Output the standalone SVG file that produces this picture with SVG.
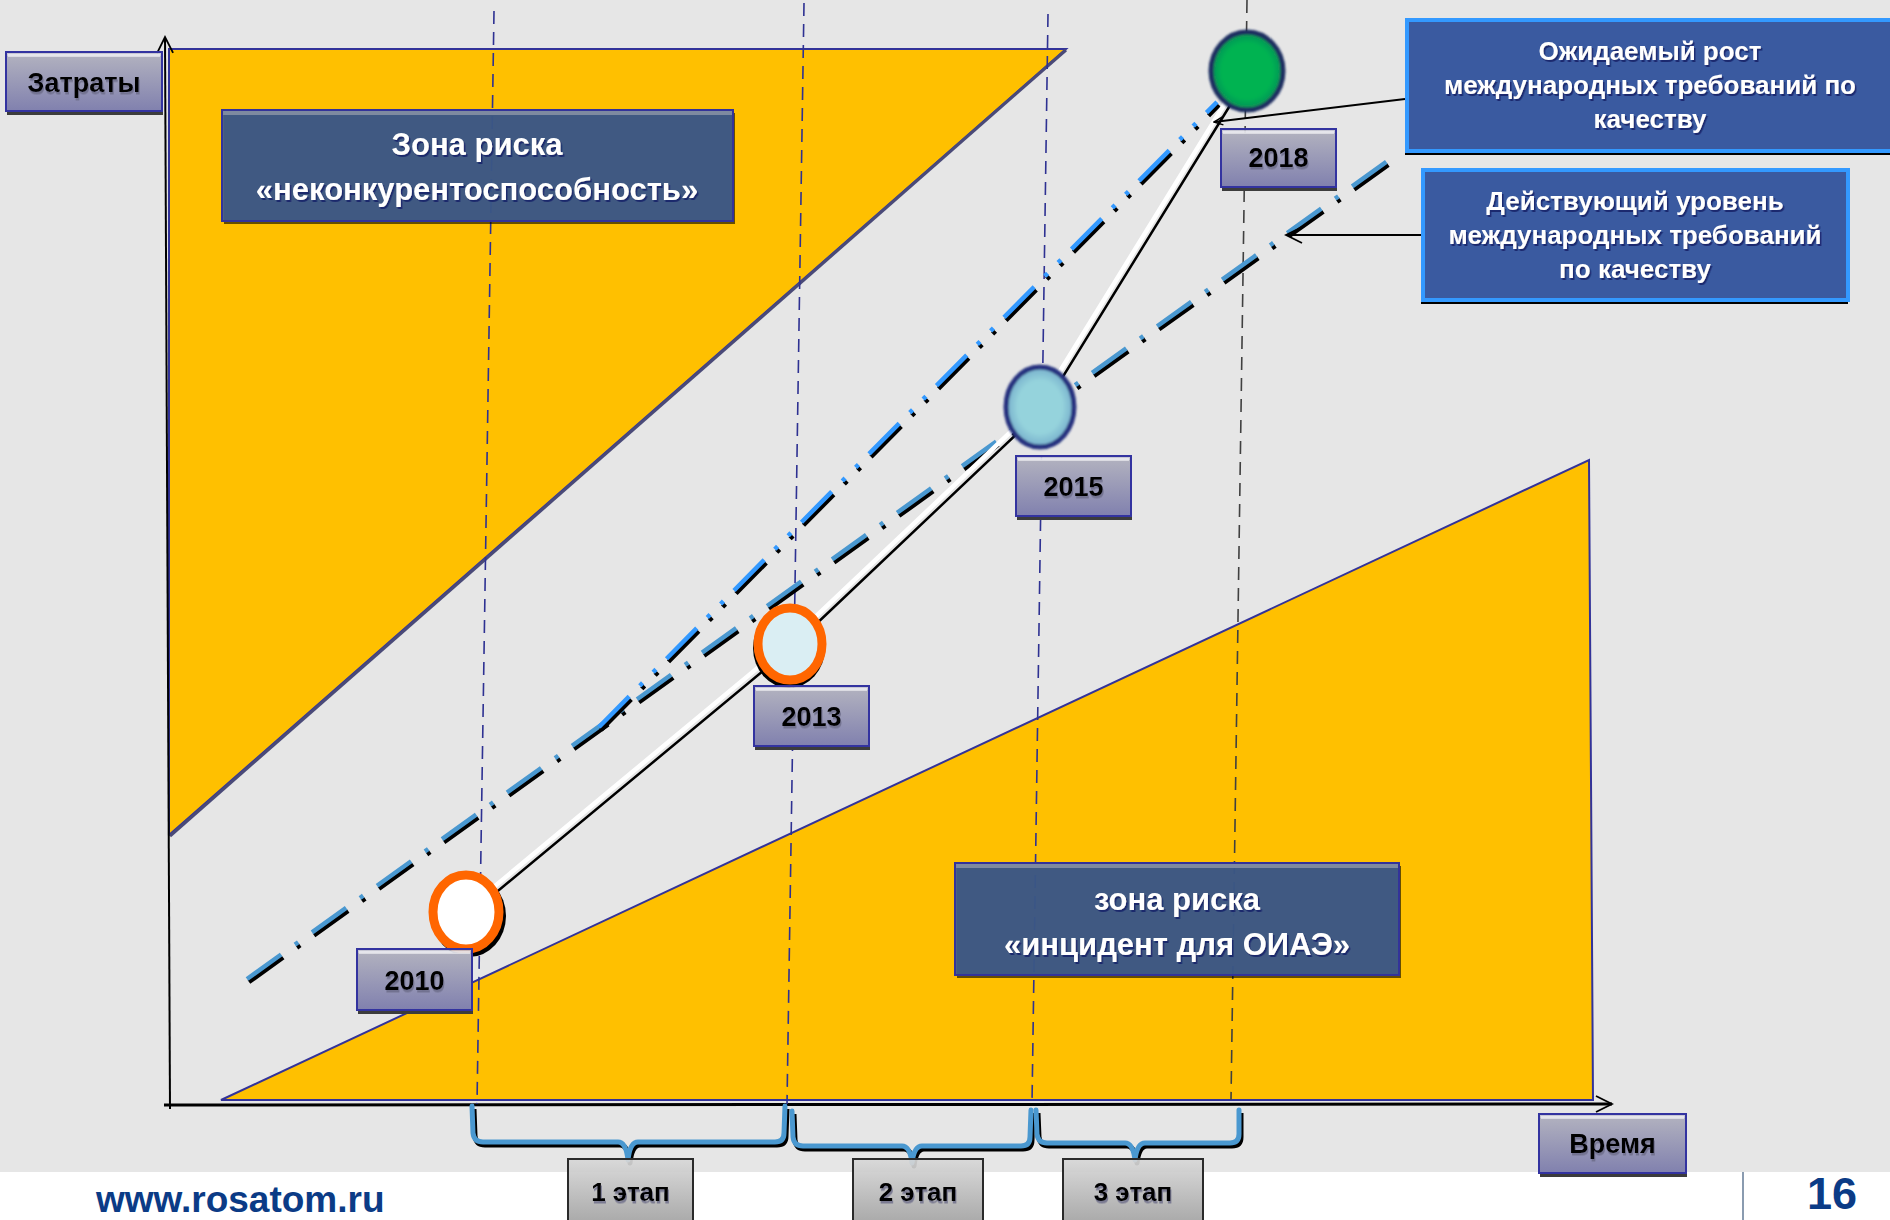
<svg xmlns="http://www.w3.org/2000/svg" width="1890" height="1220" viewBox="0 0 1890 1220">
<defs>
<linearGradient id="gLabel" x1="0" y1="0" x2="0" y2="1"><stop offset="0" stop-color="#C4C4D2"/><stop offset="1" stop-color="#8A8ABE"/></linearGradient>
<linearGradient id="gStage" x1="0" y1="0" x2="0" y2="1"><stop offset="0" stop-color="#D8D8D8"/><stop offset="1" stop-color="#A0A0A0"/></linearGradient>
<radialGradient id="g2015" cx="0.5" cy="0.5" r="0.5"><stop offset="0.65" stop-color="#95D3DC"/><stop offset="1" stop-color="#76AECB"/></radialGradient>
<radialGradient id="g2018" cx="0.5" cy="0.5" r="0.5"><stop offset="0.7" stop-color="#00B351"/><stop offset="1" stop-color="#0B8F57"/></radialGradient>
<filter id="tsW" x="-5%" y="-30%" width="110%" height="160%"><feDropShadow dx="1.5" dy="2" stdDeviation="0.6" flood-color="#14206A" flood-opacity="0.9"/></filter>
<filter id="tsB" x="-5%" y="-30%" width="110%" height="160%"><feDropShadow dx="1" dy="2.5" stdDeviation="0.7" flood-color="#6A6A88" flood-opacity="0.8"/></filter>
<filter id="soft" x="-20%" y="-20%" width="140%" height="140%"><feGaussianBlur stdDeviation="1.3"/></filter>
<marker id="arr" viewBox="0 0 20 20" refX="18" refY="10" markerWidth="20" markerHeight="20" markerUnits="userSpaceOnUse" orient="auto"><path d="M2,2 L18,10 L2,18" fill="none" stroke="#000" stroke-width="1.8"/></marker>
<marker id="arrS" viewBox="0 0 12 12" refX="11" refY="6" markerWidth="12" markerHeight="12" markerUnits="userSpaceOnUse" orient="auto"><path d="M2,2 L11,6 L2,10" fill="none" stroke="#000" stroke-width="1.5"/></marker>
<style>
text{font-family:"Liberation Sans",Arial,sans-serif;font-weight:bold;text-anchor:middle}
.lbl{fill:url(#gLabel);fill-opacity:.88;stroke:#3333A0;stroke-width:2}
.hl{fill:#FFFFFF;fill-opacity:.55}
.shd{fill:#3C3C3C}
.lt{font-size:27px;fill:#000}
.zone{fill:#3D5A8C;fill-opacity:.93;stroke:#33339A;stroke-width:2}
.zstrip{fill:#7E8AA0}
.zshd{fill:#000;fill-opacity:.6}
.zt{font-size:31px;fill:#FFFFFF}
.rbox{fill:#3A5AA0;stroke:#3399FF;stroke-width:4}
.rt{font-size:26px;fill:#FFFFFF}
.stage{fill:url(#gStage);fill-opacity:.92;stroke:#2A2A2A;stroke-width:2}
.st{font-size:26px;fill:#000}
.vd{fill:none;stroke:#2E3192;stroke-width:1.6;stroke-dasharray:13 8}
.brace{fill:none;stroke:#4A98D0;stroke-width:5;stroke-linejoin:round;stroke-linecap:round}
.braceS{fill:none;stroke:#000;stroke-width:5;stroke-linejoin:round}
</style>
</defs>

<!-- background -->
<rect x="0" y="0" width="1890" height="1172" fill="#E6E6E6"/>
<rect x="0" y="1172" width="1890" height="48" fill="#FFFFFF"/>

<!-- risk zones (areas) -->
<g id="zone-areas">
<polygon points="169,49 1066,49 169,835" fill="#FFC000" stroke="#333399" stroke-width="2"/>
<line x1="1066" y1="50" x2="170" y2="836" stroke="#4A4A78" stroke-width="3"/>
<polygon points="221,1100 1589,460 1593,1100" fill="#FFC000" stroke="#333399" stroke-width="2"/>
</g>

<!-- axes -->
<g id="axes">
<line x1="164" y1="1105" x2="1612" y2="1104" stroke="#000" stroke-width="3" marker-end="url(#arr)"/>
<line x1="170" y1="1109" x2="165" y2="37" stroke="#000" stroke-width="2" marker-end="url(#arr)"/>
</g>

<!-- year guide lines -->
<g id="guides">
<line x1="494" y1="11" x2="477" y2="1104" class="vd"/>
<line x1="804" y1="3" x2="787" y2="1104" class="vd"/>
<line x1="1048" y1="14" x2="1032" y2="1104" class="vd"/>
<line x1="1247" y1="0" x2="1231" y2="1100" class="vd" style="stroke:#404040"/>
</g>

<!-- requirement trend lines -->
<g id="trend-lines" fill="none" stroke-width="4.5">
<line x1="249" y1="982" x2="1391" y2="163" stroke="#000" stroke-dasharray="42 17 4 17"/>
<line x1="247" y1="979" x2="1389" y2="160" stroke="#4A98D0" stroke-dasharray="42 17 4 17"/>
<line x1="601" y1="730" x2="1219" y2="105" stroke="#000" stroke-dasharray="43 15 4 15 4 15"/>
<line x1="599" y1="727" x2="1217" y2="102" stroke="#3399FF" stroke-dasharray="43 15 4 15 4 15"/>
</g>

<!-- connectors -->
<g id="connectors" fill="none">
<polyline points="469,915 793,646 1043,409 1250,73" stroke="#000" stroke-width="2.5"/>
<polyline points="465.5,910.5 789.5,641.5 1039.5,404.5 1246.5,68.5" stroke="#FFFFFF" stroke-width="4.5"/>
<line x1="1405" y1="99" x2="1214" y2="122" stroke="#000" stroke-width="2" marker-end="url(#arrS)"/>
<line x1="1421" y1="235" x2="1286" y2="235" stroke="#000" stroke-width="2" marker-end="url(#arr)"/>
</g>

<!-- year nodes -->
<g id="node-2010">
<ellipse cx="469" cy="916" rx="37" ry="41" fill="#000"/>
<ellipse cx="466" cy="912" rx="33" ry="37" fill="#FFFFFF" stroke="#FF6600" stroke-width="9"/>
</g>
<g id="node-2013">
<ellipse cx="789" cy="648" rx="36" ry="40" fill="#000"/>
<ellipse cx="790" cy="644" rx="32" ry="36" fill="#DAEEF3" stroke="#FF6600" stroke-width="9"/>
</g>
<g id="node-2015">
<ellipse cx="1040" cy="407" rx="34" ry="40" fill="url(#g2015)" stroke="#27337F" stroke-width="5" filter="url(#soft)"/>
</g>
<g id="node-2018">
<ellipse cx="1247" cy="71" rx="36" ry="39" fill="url(#g2018)" stroke="#1F2F60" stroke-width="5" filter="url(#soft)"/>
</g>

<!-- year labels -->
<g id="label-2018">
<rect x="1222" y="133" width="115" height="58" class="shd"/>
<rect x="1221" y="129" width="115" height="58" class="lbl"/>
<rect x="1223" y="131" width="111" height="3" class="hl"/>
<text x="1278.5" y="167" class="lt" filter="url(#tsB)">2018</text>
</g>
<g id="label-2015">
<rect x="1017" y="460" width="115" height="60" class="shd"/>
<rect x="1016" y="456" width="115" height="60" class="lbl"/>
<rect x="1018" y="458" width="111" height="3" class="hl"/>
<text x="1073.5" y="496" class="lt" filter="url(#tsB)">2015</text>
</g>
<g id="label-2013">
<rect x="755" y="690" width="115" height="60" class="shd"/>
<rect x="754" y="686" width="115" height="60" class="lbl"/>
<rect x="756" y="688" width="111" height="3" class="hl"/>
<text x="811.5" y="726" class="lt" filter="url(#tsB)">2013</text>
</g>
<g id="label-2010">
<rect x="358" y="953" width="115" height="61" class="shd"/>
<rect x="357" y="949" width="115" height="61" class="lbl"/>
<rect x="359" y="951" width="111" height="3" class="hl"/>
<text x="414.5" y="990" class="lt" filter="url(#tsB)">2010</text>
</g>

<!-- axis labels -->
<g id="label-costs">
<rect x="7" y="56" width="156" height="59" class="shd"/>
<rect x="6" y="52" width="156" height="59" class="lbl"/>
<rect x="8" y="54" width="152" height="3" class="hl"/>
<text x="84" y="92" class="lt" filter="url(#tsB)">Затраты</text>
</g>
<g id="label-time">
<rect x="1540" y="1118" width="147" height="59" class="shd"/>
<rect x="1539" y="1114" width="147" height="59" class="lbl"/>
<rect x="1541" y="1116" width="143" height="3" class="hl"/>
<text x="1612.5" y="1153" class="lt" filter="url(#tsB)">Время</text>
</g>

<!-- zone titles -->
<g id="zone-uncompetitive">
<rect x="224" y="113" width="511" height="111" class="zshd"/>
<rect x="222" y="110" width="511" height="111" class="zone"/>
<rect x="223" y="111" width="509" height="4" class="zstrip"/>
<g filter="url(#tsW)">
<text x="477" y="155" class="zt">Зона риска</text>
<text x="477" y="200" class="zt">«неконкурентоспособность»</text>
</g>
</g>
<g id="zone-incident">
<rect x="957" y="866" width="444" height="112" class="zshd"/>
<rect x="955" y="863" width="444" height="112" class="zone"/>
<rect x="956" y="864" width="442" height="4" class="zstrip"/>
<g filter="url(#tsW)">
<text x="1177" y="910" class="zt">зона риска</text>
<text x="1177" y="955" class="zt">«инцидент для ОИАЭ»</text>
</g>
</g>

<!-- callout boxes -->
<g id="box-expected">
<rect x="1405" y="24" width="490" height="131" fill="#000"/>
<rect x="1407" y="20" width="490" height="131" class="rbox"/>
<g filter="url(#tsW)">
<text x="1650" y="60" class="rt">Ожидаемый рост</text>
<text x="1650" y="94" class="rt">международных требований по</text>
<text x="1650" y="128" class="rt">качеству</text>
</g>
</g>
<g id="box-current">
<rect x="1421" y="174" width="427" height="130" fill="#000"/>
<rect x="1423" y="170" width="425" height="130" class="rbox"/>
<g filter="url(#tsW)">
<text x="1635" y="210" class="rt">Действующий уровень</text>
<text x="1635" y="244" class="rt">международных требований</text>
<text x="1635" y="278" class="rt">по качеству</text>
</g>
</g>

<!-- stage braces -->
<g id="braces">
<g transform="translate(2,3)">
<path class="braceS" d="M472,1106 L473,1133 Q474,1142 483,1142 L618,1142 Q626,1142 628,1160 Q630,1142 638,1142 L775,1142 Q784,1142 784,1133 L785,1106"/>
<path class="braceS" d="M792,1111 L793,1137 Q794,1146 803,1146 L902,1146 Q910,1146 912,1163 Q914,1146 922,1146 L1021,1146 Q1030,1146 1030,1137 L1031,1110"/>
<path class="braceS" d="M1036,1110 L1037,1134 Q1038,1143 1047,1143 L1125,1143 Q1133,1143 1135,1160 Q1137,1143 1145,1143 L1230,1143 Q1239,1143 1239,1134 L1239,1110"/>
</g>
<path class="brace" d="M472,1106 L473,1133 Q474,1142 483,1142 L618,1142 Q626,1142 628,1160 Q630,1142 638,1142 L775,1142 Q784,1142 784,1133 L785,1106"/>
<path class="brace" d="M792,1111 L793,1137 Q794,1146 803,1146 L902,1146 Q910,1146 912,1163 Q914,1146 922,1146 L1021,1146 Q1030,1146 1030,1137 L1031,1110"/>
<path class="brace" d="M1036,1110 L1037,1134 Q1038,1143 1047,1143 L1125,1143 Q1133,1143 1135,1160 Q1137,1143 1145,1143 L1230,1143 Q1239,1143 1239,1134 L1239,1110"/>
</g>

<!-- stages -->
<g id="stage-1">
<rect x="568" y="1159" width="125" height="66" class="stage"/>
<text x="630.5" y="1201" class="st" filter="url(#tsB)">1 этап</text>
</g>
<g id="stage-2">
<rect x="853" y="1159" width="130" height="66" class="stage"/>
<text x="918" y="1201" class="st" filter="url(#tsB)">2 этап</text>
</g>
<g id="stage-3">
<rect x="1063" y="1159" width="140" height="66" class="stage"/>
<text x="1133" y="1201" class="st" filter="url(#tsB)">3 этап</text>
</g>

<!-- footer -->
<g id="footer">
<line x1="1743" y1="1172" x2="1743" y2="1220" stroke="#8A9BB0" stroke-width="2"/>
<text x="96" y="1212" style="text-anchor:start;font-size:37px;fill:#0B3B86">www.rosatom.ru</text>
<text x="1832" y="1209" style="font-size:45px;fill:#0B3B86">16</text>
</g>
</svg>
